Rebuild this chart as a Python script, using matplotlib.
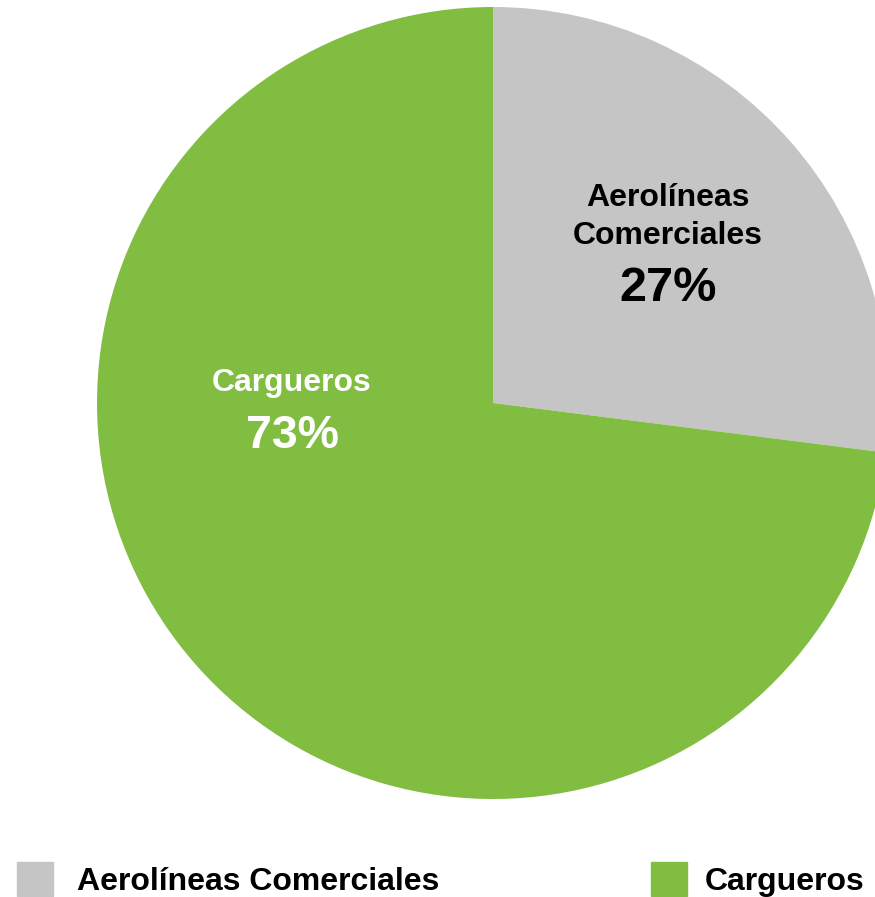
import matplotlib
matplotlib.use("Agg")
import matplotlib.pyplot as plt
from matplotlib.patches import Rectangle

# ── Dados ────────────────────────────────────────────────────────────────────
categorias = ["Aerolíneas Comerciales", "Cargueros"]
rotulos = ["Aerolíneas\nComerciales", "Cargueros"]
valores = [27, 73]
cores = ["#C4C5C4", "#80BD41"]
cores_texto = ["black", "white"]

plt.rcParams["font.family"] = ["Liberation Sans", "DejaVu Sans"]

W, H = 875, 897
fig = plt.figure(figsize=(W / 100, H / 100), dpi=100)
ax = fig.add_axes([0, 0, 1, 1])

# centro (493, 403) px, raio 396 px
cx, cy, r = 493, 403, 396
ax.pie(valores, colors=cores, startangle=90, counterclock=False,
       radius=1, wedgeprops=dict(linewidth=0))
ax.set_xlim(-cx / r, (W - cx) / r)
ax.set_ylim(-(H - cy) / r, cy / r)
ax.set_aspect("auto")
ax.axis("off")


def px(x, y):
    return (x - cx) / r, (cy - y) / r


# rótulos dentro das fatias
pos_nome = [(668, 217), (292, 383)]
pos_pct = [(668, 288), (292, 436)]
tam_pct = [35, 33.5]
for nome, v, c, pn, pp, tp in zip(rotulos, valores, cores_texto, pos_nome, pos_pct, tam_pct):
    ax.text(*px(*pn), nome, ha="center", va="center", fontsize=23,
            fontweight="bold", color=c, linespacing=1.32)
    ax.text(*px(*pp), f"{v}%", ha="center", va="center", fontsize=tp,
            fontweight="bold", color=c)

# legenda manual
leg_x = [17, 651]
leg_tx = [77, 705]
for cat, cor, lx, tx in zip(categorias, cores, leg_x, leg_tx):
    fig.patches.append(Rectangle((lx / W, 1 - 896 / H), 36 / W, 34 / H,
                                 transform=fig.transFigure, color=cor))
    fig.text(tx / W, 1 - 882 / H, cat, ha="left", va="center",
             fontsize=23, fontweight="bold", color="black")

plt.savefig("out.png", dpi=100)
plt.close()
